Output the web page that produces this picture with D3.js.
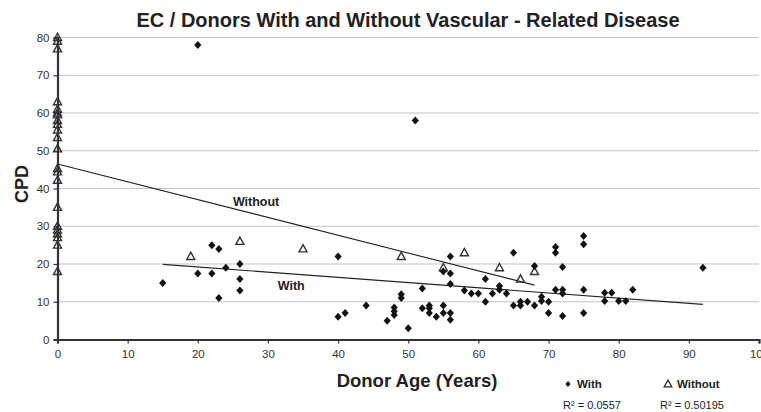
<!DOCTYPE html>
<html>
<head>
<meta charset="utf-8">
<script src="https://cdn.jsdelivr.net/npm/d3@7"></script>
<style>
  body { margin: 0; background: #fff; }
  svg { font-family: "Liberation Sans", Arial, sans-serif; }
</style>
</head>
<body>
<svg id="chart" width="761" height="412"></svg>
<script>
// donors with vascular-related disease  [age, CPD]
const withData = [
  [15,15],[20,78],[20,17.5],[22,25],[22,17.5],[23,24],[23,11],[24,19],[26,20],[26,16],[26,13],
  [40,22],[40,6],[41,7],[44,9],[47,5],[48,8.5],[48,7.5],[48,6.5],[49,12],[49,11],[50,3],[51,58],
  [52,13.5],[52,8.3],[53,9],[53,8.3],[53,7],[54,6],[55,9],[55,7],[55,18],[56,22],[56,17.5],[56,14.7],
  [56,7],[56,5.2],[58,13],[59,12.2],[60,12.2],[61,16],[61,10],[62,12.2],[63,14.2],[63,13.2],[64,12.2],
  [65,23],[65,9],[66,10],[66,9],[67,10],[68,19.5],[68,9],[69,11.3],[69,10.2],[70,10],[70,7],
  [71,24.5],[71,23],[71,13.2],[72,19.2],[72,13.2],[72,12.2],[72,6.2],[75,27.4],[75,25.2],[75,13.2],
  [75,7],[78,12.4],[78,10.2],[79,12.4],[80,10.2],[81,10.2],[82,13.2],[92,19]
];

// donors without vascular-related disease  [age, CPD]
const withoutData = [
  [0,80],[0,79],[0,77],[0,63],[0,61],[0,60],[0,59.5],[0,58],[0,57],[0,55.5],[0,53.5],[0,50.5],
  [0,45.3],[0,44.4],[0,42.2],[0,35],[0,30],[0,29],[0,28],[0,27],[0,25],[0,18],
  [19,22],[26,26],[35,24],[49,22],[55,19],[58,23],[63,19],[66,16],[68,18]
];

// linear trend lines (end points)
const withTrend = [[15,19.9],[92,9.3]];
const withoutTrend = [[0,46.5],[68,14.4]];

const xTicks = [0,10,20,30,40,50,60,70,80,90,100];
const yTicks = [0,10,20,30,40,50,60,70,80];
const legendItems = [
  {name: "With", r2: "R² = 0.0557"},
  {name: "Without", r2: "R² = 0.50195"}
];

const svg = d3.select("#chart");
const plotLeft = 57.5, plotRight = 759, plotTop = 37.5, plotBottom = 339.5;

const x = d3.scaleLinear().domain([0,100]).range([plotLeft, plotRight]);
const y = d3.scaleLinear().domain([0,80]).range([plotBottom, plotTop]);

// gridlines
svg.append("g")
  .selectAll("line")
  .data(yTicks.filter(d => d > 0))
  .enter().append("line")
  .attr("x1", plotLeft).attr("x2", plotRight)
  .attr("y1", d => y(d)).attr("y2", d => y(d))
  .style("stroke", "#c4c4c4")
  .style("stroke-width", 1.2);

// trend lines
const line = d3.line().x(d => x(d[0])).y(d => y(d[1]));
svg.append("path").datum(withTrend).attr("d", line)
  .style("fill", "none").style("stroke", "#222").style("stroke-width", 1.1);
svg.append("path").datum(withoutTrend).attr("d", line)
  .style("fill", "none").style("stroke", "#222").style("stroke-width", 1.1);

// axes
const xAxis = svg.append("g")
  .attr("transform", `translate(0,${plotBottom})`)
  .call(d3.axisBottom(x).tickValues(xTicks).tickSize(4).tickPadding(6));
const yAxis = svg.append("g")
  .attr("transform", `translate(${plotLeft},0)`)
  .call(d3.axisLeft(y).tickValues(yTicks).tickSize(4).tickPadding(4));

[xAxis, yAxis].forEach(g => {
  g.select(".domain").style("stroke", "#333").style("stroke-width", 2.2);
  g.selectAll(".tick line").style("stroke", "#333").style("stroke-width", 1.2);
  g.selectAll(".tick text")
    .style("font-family", "Liberation Sans, Arial, sans-serif")
    .style("font-size", "11.5px")
    .style("fill", "#333");
});

// markers
const diamond = "M0,-4L3.6,0L0,4L-3.6,0Z";
const triangle = "M0,-4.3L4,3L-4,3Z";

svg.append("g")
  .selectAll("path")
  .data(withoutData)
  .enter().append("path")
  .attr("d", triangle)
  .attr("transform", d => `translate(${x(d[0])},${y(d[1])})`)
  .style("fill", "none")
  .style("stroke", "#333")
  .style("stroke-width", 1.4);

svg.append("g")
  .selectAll("path")
  .data(withData)
  .enter().append("path")
  .attr("d", diamond)
  .attr("transform", d => `translate(${x(d[0])},${y(d[1])})`)
  .style("fill", "#111");

// in-plot labels
svg.append("text").attr("x", x(25)).attr("y", y(35.4))
  .text("Without").style("font-weight", "bold").style("font-size", "12.5px").style("fill", "#222");
svg.append("text").attr("x", x(31.4)).attr("y", y(13.1))
  .text("With").style("font-weight", "bold").style("font-size", "12.5px").style("fill", "#222");

// title and axis titles
svg.append("text")
  .attr("x", 408).attr("y", 27)
  .attr("text-anchor", "middle")
  .style("font-weight", "bold").style("font-size", "20px").style("fill", "#222")
  .text("EC / Donors With and Without Vascular - Related Disease");

svg.append("text")
  .attr("transform", "translate(28,184) rotate(-90)")
  .attr("text-anchor", "middle")
  .style("font-weight", "bold").style("font-size", "18px").style("fill", "#222")
  .text("CPD");

svg.append("text")
  .attr("x", 417).attr("y", 387)
  .attr("text-anchor", "middle")
  .style("font-weight", "bold").style("font-size", "18.5px").style("fill", "#222")
  .text("Donor Age (Years)");

// legend
const symX = [568, 668], nameX = [577, 677], r2X = [592, 692];
legendItems.forEach((d, i) => {
  svg.append("path")
    .attr("d", i === 0 ? "M0,-3L2.6,0L0,3L-2.6,0Z" : "M0,-4L3.8,2.8L-3.8,2.8Z")
    .attr("transform", `translate(${symX[i]},${384})`)
    .style("fill", i === 0 ? "#111" : "none")
    .style("stroke", i === 0 ? "none" : "#222")
    .style("stroke-width", 1.3);
  svg.append("text")
    .attr("x", nameX[i]).attr("y", 388)
    .style("font-weight", "bold").style("font-size", "11.5px").style("fill", "#222")
    .text(d.name);
  svg.append("text")
    .attr("x", r2X[i]).attr("y", 409)
    .attr("text-anchor", "middle")
    .style("font-size", "11px").style("fill", "#222")
    .text(d.r2);
});
</script>
</body>
</html>
